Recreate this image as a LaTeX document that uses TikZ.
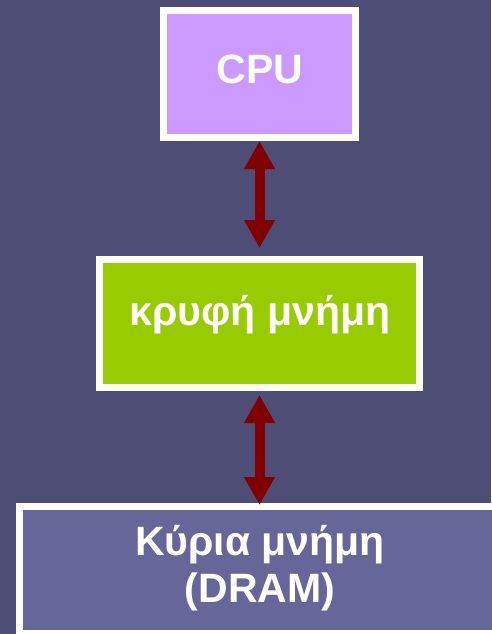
\documentclass[tikz,border=0pt]{standalone}
\usepackage{fontspec}
\setmainfont{Liberation Sans}
\usetikzlibrary{arrows.meta}

\definecolor{slate}{HTML}{4E4D76}
\definecolor{cpufill}{HTML}{CC99FF}
\definecolor{cachefill}{HTML}{99CC00}
\definecolor{dramfill}{HTML}{666699}
\definecolor{busred}{HTML}{800000}

\tikzset{
  unitbox/.style={draw=white, line width=7pt, inner sep=0pt, rectangle},
  boxtext/.style={anchor=base, text=white, inner sep=0pt,
    font=\fontsize{41}{47}\selectfont\bfseries},
  bus/.style={busred, line width=10pt,
    {Triangle[width=29pt,length=28pt]}-{Triangle[width=29pt,length=28pt]}}
}

\begin{document}
\begin{tikzpicture}[x=1pt, y=-1pt]
  % page and background
  \useasboundingbox (0,0) rectangle (491,634);
  \fill[slate] (0,0) rectangle (491,634);

  % memory hierarchy boxes
  \node[unitbox, fill=cpufill, minimum width=192pt, minimum height=127pt]
    (cpu) at (259.5,74) {};
  \node[unitbox, fill=cachefill, minimum width=320pt, minimum height=128pt]
    (cache) at (259.5,323.5) {};
  \node[unitbox, fill=dramfill, minimum width=480pt, minimum height=127pt]
    (dram) at (259.5,570) {};

  % labels
  \node[boxtext] (cputext) at (260,83) {CPU};
  \node[boxtext] (cachetext) at (260,325) {κρυφή μνήμη};
  \node[boxtext] (dramtext1) at (260,555) {Κύρια μνήμη};
  \node[boxtext] (dramtext2) at (260,602) {(DRAM)};

  % two-way buses between the levels
  \draw[bus, shorten >=8pt] (cpu.south) -- (cache.north);
  \draw[bus, shorten <=4pt, shorten >=-2pt] (cache.south) -- (dram.north);
\end{tikzpicture}
\end{document}
